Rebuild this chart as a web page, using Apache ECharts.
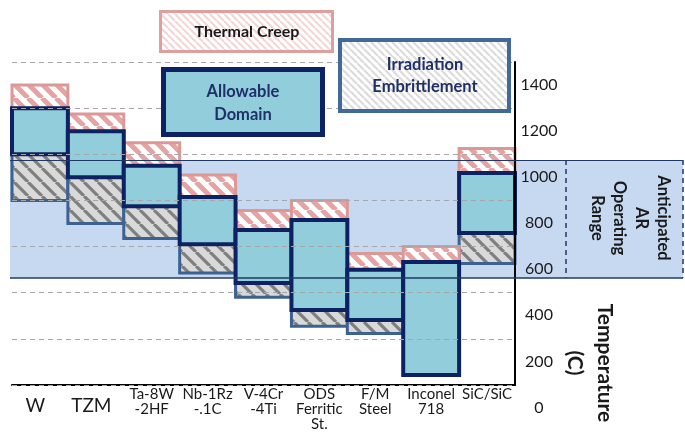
<!DOCTYPE html>
<html>
<head>
<meta charset="utf-8">
<title>Material temperature windows</title>
<script src="https://cdn.jsdelivr.net/npm/echarts@6/dist/echarts.min.js"></script>
<style>
  html, body { margin: 0; padding: 0; background: #fff; }
  #chart { width: 685px; height: 441px; }
</style>
</head>
<body>
<div id="chart"></div>
<script>
// materials on the x axis
var categories = ['W', 'TZM', 'Ta-8W\n-2HF', 'Nb-1Rz\n-.1C', 'V-4Cr\n-4Ti', 'ODS\nFerritic\nSt.', 'F/M\nSteel', 'Inconel\n718', 'SiC/SiC'];
// temperatures (C)
var embrittleFrom = [900, 800, 735, 585, 480, 355, 323, null, 627];
var allowFrom     = [1100, 1000, 875, 710, 542, 425, 382, 143, 759];
var allowTo       = [1300, 1200, 1050, 915, 772, 815, 600, 633, 1019];
var creepTo       = [1400, 1275, 1150, 1010, 856, 900, 670, 700, 1125];
// anticipated AR operating range
var rangeAR = [565, 1075];
var tickLabels = ['0', '200', '400', '600', '800', '1000', '1200', '1400'];

var FONT = 'Lato';

function hatch(bg, fg, size, width) {
  var c = document.createElement('canvas');
  c.width = c.height = size;
  var g = c.getContext('2d');
  g.fillStyle = bg;
  g.fillRect(0, 0, size, size);
  g.strokeStyle = fg;
  g.lineWidth = width;
  g.beginPath();
  for (var k = -1; k <= 1; k++) {
    g.moveTo(k * size, 0);
    g.lineTo(k * size + size, size);
  }
  g.stroke();
  return { image: c, repeat: 'repeat' };
}

var creepFill = hatch('#ffffff', '#e6a3a1', 14, 5);
var embrFill = hatch('#d9d9d9', '#7f7f7f', 14, 3.2);
var creepLegendFill = hatch('#ffffff', '#f2d6d5', 7, 2);
var embrLegendFill = hatch('#ffffff', '#dcdcdc', 7, 2.2);

function pairs(lo, hi) {
  var out = [];
  for (var i = 0; i < categories.length; i++) {
    if (lo[i] != null && hi[i] != null) out.push([i, lo[i], hi[i]]);
  }
  return out;
}

function boxRenderer(fill, stroke, lw) {
  return function (params, api) {
    var x = api.value(0);
    var lo = api.coord([x, api.value(1)]);
    var hi = api.coord([x, api.value(2)]);
    var w = api.size([1, 0])[0];
    return {
      type: 'rect',
      shape: { x: lo[0] - w / 2, y: hi[1], width: w, height: lo[1] - hi[1] },
      style: { fill: fill, stroke: stroke, lineWidth: lw }
    };
  };
}

var myChart = echarts.init(document.getElementById('chart'), null, { renderer: 'canvas', devicePixelRatio: 1 });

var option = {
  animation: false,
  backgroundColor: '#ffffff',
  grid: { left: 12, right: 170, top: 62, bottom: 56, containLabel: false, outerBoundsMode: 'none' },
  xAxis: {
    type: 'category',
    data: categories,
    axisLine: { onZero: false, lineStyle: { color: '#000', width: 2 } },
    axisTick: { show: false },
    splitLine: { show: false },
    axisLabel: {
      interval: 0,
      margin: 2,
      color: '#1a1a1a',
      fontFamily: FONT,
      fontSize: 15,
      lineHeight: 15,
      formatter: function (v) {
        return (v === 'W' || v === 'TZM') ? '{big|' + v + '}' : v;
      },
      rich: {
        big: { fontFamily: FONT, fontSize: 19, lineHeight: 38, color: '#1a1a1a', padding: [0, 9, 0, 0] }
      }
    }
  },
  yAxis: {
    type: 'value',
    position: 'right',
    min: 100,
    max: 1500,
    interval: 200,
    z: 3,
    axisLine: { show: true, lineStyle: { color: '#000', width: 2 } },
    axisTick: { show: false },
    splitLine: { show: true, lineStyle: { color: '#a6a6a6', width: 1, type: [5, 4] } },
    axisLabel: {
      margin: 24,
      align: 'center',
      // tick labels sit half a step below the dashed lines
      verticalAlign: 'top',
      lineHeight: 45,
      showMinLabel: true,
      showMaxLabel: true,
      color: '#1a1a1a',
      fontFamily: FONT,
      fontSize: 16,
      formatter: function (v, i) { return tickLabels[i]; }
    }
  },
  series: [
    {
      // operating range band
      type: 'line',
      data: [],
      z: 1,
      clip: false,
      silent: true,
      markArea: {
        silent: true,
        itemStyle: { color: '#c6d9f1', borderWidth: 0 },
        data: [[{ yAxis: rangeAR[1], x: 10 }, { yAxis: rangeAR[0], x: 683 }]]
      },
      markLine: {
        silent: true,
        symbol: 'none',
        label: { show: false },
        data: [
          [{ yAxis: rangeAR[1], x: 10, lineStyle: { type: 'solid', width: 1.2 } }, { yAxis: rangeAR[1], x: 683 }],
          [{ yAxis: rangeAR[0], x: 10, lineStyle: { type: 'solid', width: 1.6 } }, { yAxis: rangeAR[0], x: 683 }],
          [{ yAxis: rangeAR[1], x: 566, lineStyle: { type: [5, 4], width: 1.5 } }, { yAxis: rangeAR[0], x: 566 }],
          [{ yAxis: rangeAR[1], x: 683, lineStyle: { type: [5, 4], width: 1.5 } }, { yAxis: rangeAR[0], x: 683 }]
        ],
        lineStyle: { color: '#1f3864' }
      }
    },
    {
      name: 'Irradiation Embrittlement',
      type: 'custom',
      z: 2,
      encode: { x: 0, y: [1, 2] },
      data: pairs(embrittleFrom, allowFrom),
      renderItem: boxRenderer(embrFill, '#3d6292', 3)
    },
    {
      name: 'Thermal Creep',
      type: 'custom',
      z: 2,
      encode: { x: 0, y: [1, 2] },
      data: pairs(allowTo, creepTo),
      renderItem: boxRenderer(creepFill, '#db9896', 3)
    },
    {
      name: 'Allowable Domain',
      type: 'custom',
      z: 2,
      encode: { x: 0, y: [1, 2] },
      data: pairs(allowFrom, allowTo),
      renderItem: boxRenderer('#92cddc', '#0c2262', 4)
    }
  ],
  graphic: [
    // legend boxes
    {
      type: 'rect', z: 100,
      shape: { x: 160.5, y: 11.5, width: 172, height: 40 },
      style: { fill: creepLegendFill, stroke: '#dca09e', lineWidth: 3 }
    },
    {
      type: 'text', z: 101, x: 247, y: 32,
      style: { text: 'Thermal Creep', fontFamily: FONT, fontSize: 16, fontWeight: 'bold', fill: '#1a1a1a',
        align: 'center', verticalAlign: 'middle' }
    },
    {
      type: 'rect', z: 100,
      shape: { x: 163.5, y: 69.5, width: 159, height: 65 },
      style: { fill: '#92cddc', stroke: '#0c2262', lineWidth: 5 }
    },
    {
      type: 'text', z: 101, x: 243, y: 103,
      style: { text: 'Allowable\nDomain', fontFamily: FONT, fontSize: 16.5, fontWeight: 'bold', fill: '#1f3068',
        lineHeight: 23, align: 'center', verticalAlign: 'middle' }
    },
    {
      type: 'rect', z: 100,
      shape: { x: 340, y: 40, width: 169, height: 71 },
      style: { fill: embrLegendFill, stroke: '#41699a', lineWidth: 4 }
    },
    {
      type: 'text', z: 101, x: 425, y: 76,
      style: { text: 'Irradiation\nEmbrittlement', fontFamily: FONT, fontSize: 16.5, fontWeight: 'bold', fill: '#1f3068',
        lineHeight: 22, align: 'center', verticalAlign: 'middle' }
    },
    // band label
    {
      type: 'text', z: 101, x: 630, y: 218, rotation: -Math.PI / 2,
      style: { text: 'Anticipated\nAR\nOperating\nRange', fontFamily: FONT, fontSize: 16.5, fontWeight: 'bold',
        fill: '#1a1a1a', lineHeight: 22, align: 'center', verticalAlign: 'middle' }
    },
    // axis title
    {
      type: 'text', z: 101, x: 590, y: 363, rotation: -Math.PI / 2,
      style: { text: 'Temperature\n(C)', fontFamily: FONT, fontSize: 21, fontWeight: 'bold',
        fill: '#1a1a1a', lineHeight: 30, align: 'center', verticalAlign: 'middle' }
    }
  ]
};

myChart.setOption(option);
window.addEventListener('resize', myChart.resize);
</script>
</body>
</html>
